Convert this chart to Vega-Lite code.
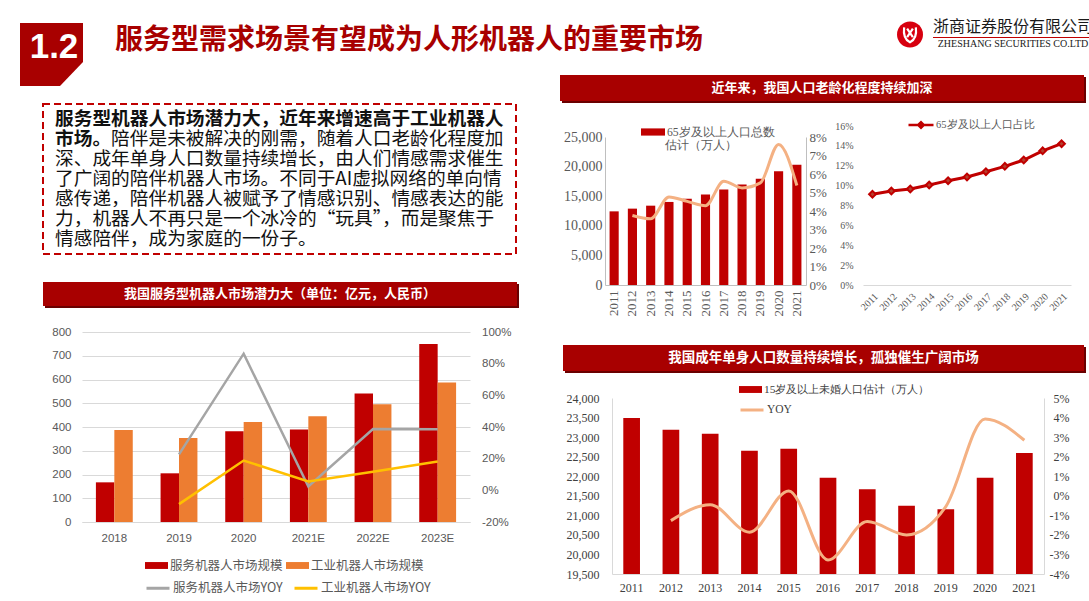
{
"$schema": "https://vega.github.io/schema/vega-lite/v6.json",
"padding": 0,
"background": "#ffffff",
"bounds": "flush",
"spacing": 0,
"resolve": {"scale": {"fill": "independent", "stroke": "independent"}, "legend": {"fill": "independent", "stroke": "independent"}},
"config": {
  "view": {"stroke": null},
  "concat": {"spacing": 0},
  "axis": {"labelColor": "#595959", "title": null, "labelOverlap": false},
  "legend": {"padding": 0, "title": null, "labelLimit": 300}
},
"datasets": {
  "robot": [
    {"year":"2018","series":"服务机器人市场规模","value":167},
    {"year":"2018","series":"工业机器人市场规模","value":387},
    {"year":"2019","series":"服务机器人市场规模","value":205},
    {"year":"2019","series":"工业机器人市场规模","value":354},
    {"year":"2020","series":"服务机器人市场规模","value":382},
    {"year":"2020","series":"工业机器人市场规模","value":421},
    {"year":"2021E","series":"服务机器人市场规模","value":390},
    {"year":"2021E","series":"工业机器人市场规模","value":445},
    {"year":"2022E","series":"服务机器人市场规模","value":541},
    {"year":"2022E","series":"工业机器人市场规模","value":496},
    {"year":"2023E","series":"服务机器人市场规模","value":750},
    {"year":"2023E","series":"工业机器人市场规模","value":587}
  ],
  "robotYoy": [
    {"year":"2019","line":"服务机器人市场YOY","yoy":0.227},
    {"year":"2020","line":"服务机器人市场YOY","yoy":0.863},
    {"year":"2021E","line":"服务机器人市场YOY","yoy":0.024},
    {"year":"2022E","line":"服务机器人市场YOY","yoy":0.387},
    {"year":"2023E","line":"服务机器人市场YOY","yoy":0.386},
    {"year":"2019","line":"工业机器人市场YOY","yoy":-0.087},
    {"year":"2020","line":"工业机器人市场YOY","yoy":0.188},
    {"year":"2021E","line":"工业机器人市场YOY","yoy":0.056},
    {"year":"2022E","line":"工业机器人市场YOY","yoy":0.117},
    {"year":"2023E","line":"工业机器人市场YOY","yoy":0.182}
  ],
  "pop65": [
    {"year":"2011","series":"65岁及以上人口总数","pop":12440},
    {"year":"2012","series":"65岁及以上人口总数","pop":12900,"yoy":0.0376},
    {"year":"2013","series":"65岁及以上人口总数","pop":13400,"yoy":0.0358},
    {"year":"2014","series":"65岁及以上人口总数","pop":14030,"yoy":0.0476},
    {"year":"2015","series":"65岁及以上人口总数","pop":14590,"yoy":0.0452},
    {"year":"2016","series":"65岁及以上人口总数","pop":15270,"yoy":0.0429},
    {"year":"2017","series":"65岁及以上人口总数","pop":16120,"yoy":0.0561},
    {"year":"2018","series":"65岁及以上人口总数","pop":16970,"yoy":0.0525},
    {"year":"2019","series":"65岁及以上人口总数","pop":17930,"yoy":0.0552},
    {"year":"2020","series":"65岁及以上人口总数","pop":19230,"yoy":0.076},
    {"year":"2021","series":"65岁及以上人口总数","pop":20300,"yoy":0.0538}
  ],
  "share65": [
    {"year":"2011","series":"65岁及以上人口占比","share":0.0913},
    {"year":"2012","series":"65岁及以上人口占比","share":0.0946},
    {"year":"2013","series":"65岁及以上人口占比","share":0.0966},
    {"year":"2014","series":"65岁及以上人口占比","share":0.1006},
    {"year":"2015","series":"65岁及以上人口占比","share":0.105},
    {"year":"2016","series":"65岁及以上人口占比","share":0.1087},
    {"year":"2017","series":"65岁及以上人口占比","share":0.114},
    {"year":"2018","series":"65岁及以上人口占比","share":0.1194},
    {"year":"2019","series":"65岁及以上人口占比","share":0.1258},
    {"year":"2020","series":"65岁及以上人口占比","share":0.135},
    {"year":"2021","series":"65岁及以上人口占比","share":0.1422}
  ],
  "single": [
    {"year":"2011","series":"15岁及以上未婚人口估计（万人）","count":23488},
    {"year":"2012","series":"15岁及以上未婚人口估计（万人）","count":23189,"yoyName":"YOY","yoy":-0.0127},
    {"year":"2013","series":"15岁及以上未婚人口估计（万人）","count":23087,"yoyName":"YOY","yoy":-0.0046},
    {"year":"2014","series":"15岁及以上未婚人口估计（万人）","count":22651,"yoyName":"YOY","yoy":-0.0186},
    {"year":"2015","series":"15岁及以上未婚人口估计（万人）","count":22702,"yoyName":"YOY","yoy":0.0025},
    {"year":"2016","series":"15岁及以上未婚人口估计（万人）","count":21959,"yoyName":"YOY","yoy":-0.0328},
    {"year":"2017","series":"15岁及以上未婚人口估计（万人）","count":21669,"yoyName":"YOY","yoy":-0.0132},
    {"year":"2018","series":"15岁及以上未婚人口估计（万人）","count":21242,"yoyName":"YOY","yoy":-0.02},
    {"year":"2019","series":"15岁及以上未婚人口估计（万人）","count":21157,"yoyName":"YOY","yoy":-0.0055},
    {"year":"2020","series":"15岁及以上未婚人口估计（万人）","count":21959,"yoyName":"YOY","yoy":0.0393},
    {"year":"2021","series":"15岁及以上未婚人口估计（万人）","count":22591,"yoyName":"YOY","yoy":0.0284}
  ],
  "textLines": [
    {"line":1,"col":0,"bold":1,"text":"服务型机器人市场潜力大，近年来增速高于工业机器人"},
    {"line":2,"col":0,"bold":1,"text":"市场。"},
    {"line":2,"col":3,"bold":0,"text":"陪伴是未被解决的刚需，随着人口老龄化程度加"},
    {"line":3,"col":0,"bold":0,"text":"深、成年单身人口数量持续增长，由人们情感需求催生"},
    {"line":4,"col":0,"bold":0,"text":"了广阔的陪伴机器人市场。不同于AI虚拟网络的单向情"},
    {"line":5,"col":0,"bold":0,"text":"感传递，陪伴机器人被赋予了情感识别、情感表达的能"},
    {"line":6,"col":0,"bold":0,"text":"力，机器人不再只是一个冰冷的“玩具”，而是聚焦于"},
    {"line":7,"col":0,"bold":0,"text":"情感陪伴，成为家庭的一份子。"}
  ]
},
"vconcat": [
  {"columns":2,"spacing":0,"bounds":"flush","concat":[
    {"width":15,"height":23,"data":{"values":[]},"mark":"point"},
    {"width":0,"height":0,"data":{"values":[]},"mark":"point"},
    {"width":0,"height":0,"data":{"values":[]},"mark":"point"},
    {"width":63,"height":63,"data":{"values":[{"t":"1.2"}]},"layer":[
      {"mark":{"type":"point","shape":"M-1,-1L1,-1L1,0.238L0.27,1L-1,1Z","size":3969,"filled":true,"fill":"#A80000","opacity":1,"strokeWidth":0}},
      {"mark":{"type":"text","font":"Liberation Sans","fontWeight":"bold","fontSize":35,"fill":"#ffffff","dx":2.5,"dy":-7.5},"encoding":{"text":{"field":"t"}}}
    ]}
  ]},
  {"columns":2,"spacing":0,"bounds":"flush","concat":[
    {"width":113,"height":23,"data":{"values":[]},"mark":"point"},
    {"width":0,"height":0,"data":{"values":[]},"mark":"point"},
    {"width":0,"height":0,"data":{"values":[]},"mark":"point"},
    {"width":592,"height":36,"data":{"values":[{"t":"服务型需求场景有望成为人形机器人的重要市场"}]},"mark":{"type":"text","font":"Noto Sans CJK SC","fontWeight":"bold","fontSize":28,"fill":"#A80000"},"encoding":{"text":{"field":"t"}}}
  ]},
  {"columns":2,"spacing":0,"bounds":"flush","concat":[
    {"width":898,"height":21,"data":{"values":[]},"mark":"point"},
    {"width":0,"height":0,"data":{"values":[]},"mark":"point"},
    {"width":0,"height":0,"data":{"values":[]},"mark":"point"},
    {"width":24,"height":27,"data":{"values":[{}]},"layer":[
      {"mark":{"type":"point","shape":"circle","size":676,"filled":true,"fill":"#D7000F","opacity":1,"strokeWidth":0}},
      {"mark":{"type":"point","shape":"M-0.45,-0.55C-0.55,0.2,-0.2,0.5,0,0.6C0.2,0.5,0.55,0.2,0.45,-0.55M-0.22,-0.45L0.22,0.2M0.22,-0.45L-0.22,0.2","size":676,"filled":false,"stroke":"#ffffff","strokeWidth":2.2,"opacity":1}}
    ]}
  ]},
  {"columns":2,"spacing":0,"bounds":"flush","concat":[
    {"width":933,"height":20,"data":{"values":[]},"mark":"point"},
    {"width":0,"height":0,"data":{"values":[]},"mark":"point"},
    {"width":0,"height":0,"data":{"values":[]},"mark":"point"},
    {"width":160,"height":14,"data":{"values":[{"t":"浙商证券股份有限公司"}]},"mark":{"type":"text","font":"Noto Sans CJK SC","fontSize":16,"fill":"#1a1a1a"},"encoding":{"text":{"field":"t"}}}
  ]},
  {"columns":2,"spacing":0,"bounds":"flush","concat":[
    {"width":933,"height":37,"data":{"values":[]},"mark":"point"},
    {"width":0,"height":0,"data":{"values":[]},"mark":"point"},
    {"width":0,"height":0,"data":{"values":[]},"mark":"point"},
    {"width":156,"height":1,"view":{"fill":"#C00000"},"data":{"values":[]},"mark":"point"}
  ]},
  {"columns":2,"spacing":0,"bounds":"flush","concat":[
    {"width":933,"height":39,"data":{"values":[]},"mark":"point"},
    {"width":0,"height":0,"data":{"values":[]},"mark":"point"},
    {"width":0,"height":0,"data":{"values":[]},"mark":"point"},
    {"width":160,"height":10,"data":{"values":[{"t":"ZHESHANG SECURITIES CO.LTD"}]},"mark":{"type":"text","font":"Liberation Serif","fontSize":10,"fill":"#1a1a1a"},"encoding":{"text":{"field":"t"}}}
  ]},
  {"columns":2,"spacing":0,"bounds":"flush","concat":[
    {"width":43,"height":104,"data":{"values":[]},"mark":"point"},
    {"width":0,"height":0,"data":{"values":[]},"mark":"point"},
    {"width":0,"height":0,"data":{"values":[]},"mark":"point"},
    {"width":473,"height":150,"view":{"stroke":"#C00000","strokeWidth":2,"strokeDash":[7,4]},"data":{"name":"textLines"},
     "encoding":{
       "x":{"field":"col","type":"quantitative","scale":{"domain":[-0.642,24.65],"nice":false,"zero":false},"axis":null},
       "y":{"field":"line","type":"ordinal","scale":{"type":"point","padding":0.73,"domain":[1,2,3,4,5,6,7]},"axis":null},
       "text":{"field":"text"}
     },
     "layer":[
      {"transform":[{"filter":"datum.bold == 1"}],"mark":{"type":"text","align":"left","baseline":"middle","font":"Noto Sans CJK SC","fontWeight":"bold","fontSize":18.7,"fill":"#111111"}},
      {"transform":[{"filter":"datum.bold == 0"}],"mark":{"type":"text","align":"left","baseline":"middle","font":"Noto Sans CJK SC","fontSize":18.7,"fill":"#111111"}}
     ]}
  ]},
  {"columns":2,"spacing":0,"bounds":"flush","concat":[
    {"width":45,"height":284,"data":{"values":[]},"mark":"point"},
    {"width":0,"height":0,"data":{"values":[]},"mark":"point"},
    {"width":0,"height":0,"data":{"values":[]},"mark":"point"},
    {"width":474,"height":24,"view":{"fill":"#6A0000"},"data":{"values":[]},"mark":"point"}
  ]},
  {"columns":2,"spacing":0,"bounds":"flush","concat":[
    {"width":43,"height":282,"data":{"values":[]},"mark":"point"},
    {"width":0,"height":0,"data":{"values":[]},"mark":"point"},
    {"width":0,"height":0,"data":{"values":[]},"mark":"point"},
    {"width":474,"height":24,"view":{"fill":"#A80000"},"data":{"values":[{"t":"我国服务型机器人市场潜力大（单位：亿元，人民币）"}]},"mark":{"type":"text","font":"Noto Sans CJK SC","fontWeight":"bold","fontSize":13,"fill":"#ffffff"},"encoding":{"text":{"field":"t"}}}
  ]},
  {"columns":2,"spacing":0,"bounds":"flush","concat":[
    {"width":82,"height":332,"data":{"values":[]},"mark":"point"},
    {"width":0,"height":0,"data":{"values":[]},"mark":"point"},
    {"width":0,"height":0,"data":{"values":[]},"mark":"point"},
    {"width":388,"height":190,
     "layer":[
      {"data":{"name":"robot"},
       "mark":{"type":"bar"},
       "encoding":{
         "x":{"field":"year","type":"nominal","scale":{"domain":["2018","2019","2020","2021E","2022E","2023E"],"paddingInner":0.43,"paddingOuter":0.215},"axis":{"labelAngle":0,"ticks":false,"domainColor":"#D9D9D9","labelPadding":10,"labelFont":"Liberation Sans","labelFontSize":11.5,"labelColor":"#595959"}},
         "xOffset":{"field":"series","type":"nominal","scale":{"domain":["服务机器人市场规模","工业机器人市场规模"],"paddingInner":0,"paddingOuter":0}},
         "y":{"field":"value","type":"quantitative","scale":{"domain":[0,800],"nice":false},"axis":{"values":[0,100,200,300,400,500,600,700,800],"domain":false,"ticks":false,"gridColor":"#D9D9D9","labelPadding":11,"labelFont":"Liberation Sans","labelFontSize":11.5,"labelColor":"#595959"}},
         "fill":{"field":"series","type":"nominal","scale":{"domain":["服务机器人市场规模","工业机器人市场规模"],"range":["#C00000","#ED7D31"]},"legend":{"orient":"none","legendX":145,"legendY":554,"direction":"horizontal","symbolType":"M-1,-0.3L1,-0.3L1,0.3L-1,0.3Z","symbolSize":529,"symbolStrokeWidth":0,"labelFont":"Noto Sans CJK SC","labelFontSize":12.5,"labelColor":"#595959","labelOffset":2,"columnPadding":3}}
       }
      },
      {"data":{"name":"robotYoy"},
       "mark":{"type":"line","strokeWidth":2.5},
       "encoding":{
         "x":{"field":"year","type":"nominal"},
         "y":{"field":"yoy","type":"quantitative","scale":{"domain":[-0.2,1],"nice":false},"axis":{"orient":"right","values":[-0.2,0,0.2,0.4,0.6,0.8,1],"format":".0%","labelExpr":"replace(datum.label, '−', '-')","domain":false,"ticks":false,"grid":false,"labelPadding":11.5,"labelFont":"Liberation Sans","labelFontSize":11.5,"labelColor":"#595959"}},
         "stroke":{"field":"line","type":"nominal","scale":{"domain":["服务机器人市场YOY","工业机器人市场YOY"],"range":["#A5A5A5","#FFC000"]},"legend":{"orient":"none","legendX":145,"legendY":575,"direction":"horizontal","symbolType":"stroke","symbolSize":529,"symbolStrokeWidth":3,"labelFont":"Noto Sans CJK SC","labelFontSize":12.5,"labelColor":"#595959","labelOffset":2,"columnPadding":5}}
       }
      }
     ],
     "resolve":{"scale":{"y":"independent"}}
    }
  ]},
  {"columns":2,"spacing":0,"bounds":"flush","concat":[
    {"width":562,"height":77,"data":{"values":[]},"mark":"point"},
    {"width":0,"height":0,"data":{"values":[]},"mark":"point"},
    {"width":0,"height":0,"data":{"values":[]},"mark":"point"},
    {"width":524,"height":26,"view":{"fill":"#6A0000"},"data":{"values":[]},"mark":"point"}
  ]},
  {"columns":2,"spacing":0,"bounds":"flush","concat":[
    {"width":560,"height":75,"data":{"values":[]},"mark":"point"},
    {"width":0,"height":0,"data":{"values":[]},"mark":"point"},
    {"width":0,"height":0,"data":{"values":[]},"mark":"point"},
    {"width":524,"height":26,"view":{"fill":"#A80000"},"data":{"values":[{"t":"近年来，我国人口老龄化程度持续加深"}]},"mark":{"type":"text","font":"Noto Sans CJK SC","fontWeight":"bold","fontSize":13,"fill":"#ffffff"},"encoding":{"text":{"field":"t"}}}
  ]},
  {"columns":2,"spacing":0,"bounds":"flush","concat":[
    {"width":605,"height":137,"data":{"values":[]},"mark":"point"},
    {"width":0,"height":0,"data":{"values":[]},"mark":"point"},
    {"width":0,"height":0,"data":{"values":[]},"mark":"point"},
    {"width":201,"height":148,"data":{"name":"pop65"},
     "layer":[
      {"mark":{"type":"bar"},
       "encoding":{
         "x":{"field":"year","type":"ordinal","scale":{"paddingInner":0.5,"paddingOuter":0.25},"axis":{"labelAngle":270,"ticks":false,"domainColor":"#BFBFBF","labelPadding":5,"labelFont":"Liberation Serif","labelFontSize":13,"labelColor":"#595959"}},
         "y":{"field":"pop","type":"quantitative","scale":{"domain":[0,25000],"nice":false},"axis":{"values":[0,5000,10000,15000,20000,25000],"format":",.0f","grid":false,"ticks":false,"domainColor":"#BFBFBF","labelPadding":3,"labelFont":"Liberation Serif","labelFontSize":14,"labelColor":"#595959"}},
         "fill":{"field":"series","type":"nominal","scale":{"domain":["65岁及以上人口总数"],"range":["#C00000"]},"legend":{"orient":"none","legendX":641,"legendY":120,"symbolType":"M-1,-0.3L1,-0.3L1,0.3L-1,0.3Z","symbolSize":576,"symbolStrokeWidth":0,"labelFont":"Liberation Serif","labelFontSize":11.7,"labelColor":"#595959","labelOffset":2}}
       }},
      {"transform":[{"filter":"isValid(datum.yoy)"}],
       "mark":{"type":"line","interpolate":"monotone","stroke":"#F4B183","strokeWidth":3},
       "encoding":{
         "x":{"field":"year","type":"ordinal"},
         "y":{"field":"yoy","type":"quantitative","scale":{"domain":[0,0.08],"nice":false},"axis":{"orient":"right","values":[0,0.01,0.02,0.03,0.04,0.05,0.06,0.07,0.08],"format":".0%","grid":false,"ticks":false,"domainColor":"#BFBFBF","labelPadding":3,"labelFont":"Liberation Serif","labelFontSize":13,"labelColor":"#595959"}}
       }}
     ],
     "resolve":{"scale":{"y":"independent"}}
    }
  ]},
  {"columns":2,"spacing":0,"bounds":"flush","concat":[
    {"width":665,"height":138,"data":{"values":[]},"mark":"point"},
    {"width":0,"height":0,"data":{"values":[]},"mark":"point"},
    {"width":0,"height":0,"data":{"values":[]},"mark":"point"},
    {"width":72,"height":14,"data":{"values":[{"t":"估计（万人）"}]},"mark":{"type":"text","font":"Liberation Serif","fontSize":11.7,"fill":"#595959"},"encoding":{"text":{"field":"t"}}}
  ]},
  {"columns":2,"spacing":0,"bounds":"flush","concat":[
    {"width":863,"height":126,"data":{"values":[]},"mark":"point"},
    {"width":0,"height":0,"data":{"values":[]},"mark":"point"},
    {"width":0,"height":0,"data":{"values":[]},"mark":"point"},
    {"width":208,"height":159,"data":{"name":"share65"},
     "mark":{"type":"line","strokeWidth":3,"point":{"shape":"diamond","filled":true,"size":45,"fill":"#B5412F","stroke":"#B5412F","opacity":1}},
     "encoding":{
       "x":{"field":"year","type":"ordinal","scale":{"type":"point","padding":0.5},"axis":{"labelAngle":315,"ticks":false,"domainColor":"#D9D9D9","labelPadding":6,"labelFont":"Liberation Serif","labelFontSize":10,"labelColor":"#595959"}},
       "y":{"field":"share","type":"quantitative","scale":{"domain":[0,0.16],"nice":false},"axis":{"values":[0,0.02,0.04,0.06,0.08,0.1,0.12,0.14,0.16],"format":".0%","domain":false,"ticks":false,"grid":false,"labelOverlap":false,"labelSeparation":0,"labelPadding":10,"labelFont":"Liberation Serif","labelFontSize":10,"labelColor":"#595959"}},
       "stroke":{"field":"series","type":"nominal","scale":{"domain":["65岁及以上人口占比"],"range":["#C00000"]},"legend":{"orient":"none","legendX":907,"legendY":111,"symbolType":"M-1,0L1,0M-0.22,0L0,-0.22L0.22,0L0,0.22Z","symbolSize":625,"symbolStrokeWidth":2.5,"labelFont":"Liberation Serif","labelFontSize":10.5,"labelColor":"#595959","labelOffset":1}}
     }}
  ]},
  {"columns":2,"spacing":0,"bounds":"flush","concat":[
    {"width":565,"height":347,"data":{"values":[]},"mark":"point"},
    {"width":0,"height":0,"data":{"values":[]},"mark":"point"},
    {"width":0,"height":0,"data":{"values":[]},"mark":"point"},
    {"width":521,"height":26,"view":{"fill":"#6A0000"},"data":{"values":[]},"mark":"point"}
  ]},
  {"columns":2,"spacing":0,"bounds":"flush","concat":[
    {"width":563,"height":345,"data":{"values":[]},"mark":"point"},
    {"width":0,"height":0,"data":{"values":[]},"mark":"point"},
    {"width":0,"height":0,"data":{"values":[]},"mark":"point"},
    {"width":521,"height":26,"view":{"fill":"#A80000"},"data":{"values":[{"t":"我国成年单身人口数量持续增长，孤独催生广阔市场"}]},"mark":{"type":"text","font":"Noto Sans CJK SC","fontWeight":"bold","fontSize":13.5,"fill":"#ffffff"},"encoding":{"text":{"field":"t"}}}
  ]},
  {"columns":2,"spacing":0,"bounds":"flush","concat":[
    {"width":612,"height":398,"data":{"values":[]},"mark":"point"},
    {"width":0,"height":0,"data":{"values":[]},"mark":"point"},
    {"width":0,"height":0,"data":{"values":[]},"mark":"point"},
    {"width":432,"height":176,"data":{"name":"single"},
     "layer":[
      {"mark":{"type":"bar"},
       "encoding":{
         "x":{"field":"year","type":"ordinal","scale":{"paddingInner":0.575,"paddingOuter":0.2875},"axis":{"labelAngle":0,"ticks":false,"domainColor":"#D9D9D9","labelPadding":8,"labelFont":"Liberation Serif","labelFontSize":12,"labelColor":"#404040"}},
         "y":{"field":"count","type":"quantitative","scale":{"domain":[19500,24000],"nice":false,"zero":false},"axis":{"values":[19500,20000,20500,21000,21500,22000,22500,23000,23500,24000],"format":",.0f","grid":false,"ticks":false,"domainColor":"#D9D9D9","labelPadding":13,"labelFont":"Liberation Serif","labelFontSize":12,"labelColor":"#404040"}},
         "y2":{"datum":19500},
         "fill":{"field":"series","type":"nominal","scale":{"domain":["15岁及以上未婚人口估计（万人）"],"range":["#C00000"]},"legend":{"orient":"none","legendX":739,"legendY":378,"symbolType":"M-1,-0.3L1,-0.3L1,0.3L-1,0.3Z","symbolSize":529,"symbolStrokeWidth":0,"labelFont":"Liberation Serif","labelFontSize":11.4,"labelColor":"#404040","labelOffset":2}}
       }},
      {"transform":[{"filter":"isValid(datum.yoy)"}],
       "mark":{"type":"line","interpolate":"monotone","strokeWidth":3},
       "encoding":{
         "x":{"field":"year","type":"ordinal"},
         "y":{"field":"yoy","type":"quantitative","scale":{"domain":[-0.04,0.05],"nice":false,"zero":false},"axis":{"orient":"right","values":[-0.04,-0.03,-0.02,-0.01,0,0.01,0.02,0.03,0.04,0.05],"format":".0%","labelExpr":"replace(datum.label, '−', '-')","grid":false,"ticks":false,"domainColor":"#D9D9D9","labelAlign":"right","labelPadding":25,"labelFont":"Liberation Serif","labelFontSize":12,"labelColor":"#404040"}},
         "stroke":{"field":"yoyName","type":"nominal","scale":{"domain":["YOY"],"range":["#F4B183"]},"legend":{"orient":"none","legendX":739,"legendY":397,"symbolType":"stroke","symbolSize":529,"symbolStrokeWidth":3,"labelFont":"Liberation Serif","labelFontSize":11.5,"labelColor":"#404040","labelOffset":2}}
       }}
     ],
     "resolve":{"scale":{"y":"independent"}}
    }
  ]}
]
}
